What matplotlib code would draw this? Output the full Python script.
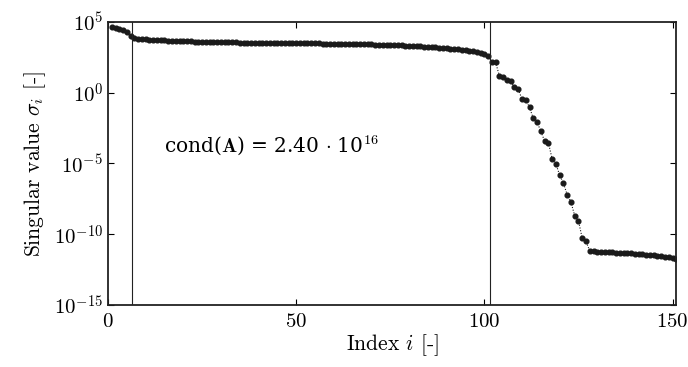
import matplotlib
matplotlib.use("Agg")
import matplotlib.pyplot as plt
import numpy as np

plt.rcParams['font.family'] = 'serif'
plt.rcParams['font.serif'] = ['cmr10', 'DejaVu Serif']
plt.rcParams['mathtext.fontset'] = 'cm'
plt.rcParams['axes.formatter.use_mathtext'] = True

# log10 of singular values (index 1..151)
log_head = [4.68, 4.61, 4.54, 4.43, 4.26, 4.01]  # i = 1..6
# plateau i = 7..101 (anchor points, read by eye)
plateau_idx = [7, 10, 15, 20, 30, 40, 50, 60, 70, 80, 85, 90, 95, 98, 100, 101]
plateau_log = [3.85, 3.78, 3.70, 3.64, 3.57, 3.53, 3.50, 3.47, 3.42, 3.33,
               3.25, 3.15, 3.02, 2.90, 2.75, 2.62]
# drop region i = 102..128
log_drop = [2.15, 2.14, 1.18, 1.13, 0.90, 0.81, 0.38, 0.26, -0.46, -0.51,
            -1.03, -1.81, -2.07, -2.72, -3.41, -3.53, -4.66, -5.01, -5.83,
            -6.38, -7.20, -7.72, -8.69, -9.04, -10.29, -10.50, -11.18]
# tail i = 129..151 (anchor points)
tail_idx = [129, 133, 139, 143, 148, 151]
tail_log = [-11.22, -11.27, -11.36, -11.44, -11.59, -11.75]

vlines = [6.5, 101.5]
cond_text = r"cond($\mathbf{A}$) = 2.40 $\cdot$ 10$^{16}$"

idx_head = np.arange(1, 7)
idx_plat = np.arange(7, 102)
idx_drop = np.arange(102, 129)
idx_tail = np.arange(129, 152)
logs = np.concatenate([
    log_head,
    np.interp(idx_plat, plateau_idx, plateau_log),
    log_drop,
    np.interp(idx_tail, tail_idx, tail_log),
])
idx = np.concatenate([idx_head, idx_plat, idx_drop, idx_tail])
sv = 10.0 ** logs

fig = plt.figure(figsize=(6.88, 3.67), dpi=100)
ax = fig.add_axes([0.157, 0.169, 0.826, 0.771])

ax.semilogy(idx, sv, color='#1a1a1a', ls=(0, (1, 1.5)), lw=0.8,
            marker='o', ms=3.4, mec='#1a1a1a', mfc='#1a1a1a')
for xv in vlines:
    ax.axvline(xv, color='#222222', lw=0.8)

ax.set_xlim(0, 151)
ax.set_ylim(1e-15, 1e5)
ax.set_xticks([0, 50, 100, 150])
ax.set_yticks([1e-15, 1e-10, 1e-5, 1e0, 1e5])
ax.set_yticklabels([r"$10^{-15}$", r"$10^{-10}$", r"$10^{-5}$", r"$10^{0}$", r"$10^{5}$"])
ax.minorticks_off()
ax.tick_params(direction='in', top=True, right=True, labelsize=15, length=4, width=0.8)
ax.tick_params(axis='x', pad=6)
for s in ax.spines.values():
    s.set_linewidth(1.3)
    s.set_color('#222222')

ax.set_xlabel(r"Index $i$ [-]", fontsize=15.5, labelpad=1)
ax.set_ylabel(r"Singular value $\sigma_i$ [-]", fontsize=15.5, labelpad=4)

ax.text(15, 10 ** -3.7, cond_text, fontsize=14.5, va='center', ha='left',
        family='DejaVu Serif')

fig.savefig('out.png', dpi=100)
